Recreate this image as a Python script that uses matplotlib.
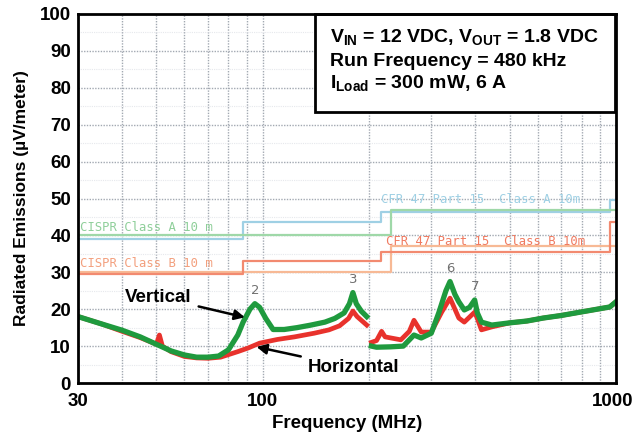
import numpy as np
import matplotlib
matplotlib.use("Agg")
import matplotlib.pyplot as plt
import matplotlib.transforms as mtransforms
from matplotlib.patches import Rectangle

plt.rcParams['font.family'] = ['Liberation Sans', 'DejaVu Sans']
plt.rcParams['mathtext.fontset'] = 'custom'
plt.rcParams['mathtext.rm'] = 'Liberation Sans:bold'
plt.rcParams['mathtext.bf'] = 'Liberation Sans:bold'

# ---------------- data ----------------
vert_freq = [30, 35, 40, 45, 50, 55, 60, 65, 70, 75, 80, 85, 88, 92, 95, 98, 102, 107,
             115, 125, 137, 150, 160, 170, 176, 180, 184, 190, 197, 200,
             203, 210, 230, 250, 268, 281, 300, 315, 330, 339, 350, 359, 372, 385,
             398, 405, 416, 445, 500, 560, 622, 700, 770, 860, 960, 1000]
vert_val = [18, 16, 14.3, 12.5, 10.5, 8.7, 7.6, 7, 7, 7.3, 9, 13, 16.5, 20, 21.5, 20.5, 17.5, 14.5,
            14.5, 15, 15.7, 16.5, 17.5, 19, 21.5, 24.5, 21.5, 19.5, 18, np.nan,
            10, 9.7, 9.8, 10, 13, 12.2, 13.5, 19, 25, 27.5, 24, 22, 19.8, 20.5,
            22.5, 19, 16.5, 15.7, 16.3, 16.8, 17.6, 18.3, 19, 19.8, 20.6, 22]

horiz_freq = [30, 35, 40, 45, 50, 51, 52, 55, 60, 65, 70, 76, 85, 91, 98, 110, 123, 140,
              154, 165, 175, 180, 185, 197, 200,
              203, 210, 217, 222, 246, 260, 268, 281, 300, 321, 339, 359, 372, 398,
              405, 416, 445, 500, 560, 622, 700, 770, 860, 960, 1000]
horiz_val = [18, 16, 14, 12.3, 10.5, 13, 10, 8.5, 7.2, 6.8, 6.7, 7, 8.5, 9.5, 10.8, 11.8, 12.5, 13.5,
             14.4, 15.5, 17.5, 19.5, 18, 15.7, np.nan,
             11, 11.5, 14, 12.5, 11.7, 14, 17, 13.8, 13.8, 19.2, 23, 17.6, 16.5, 19.2,
             17.5, 14.4, 15.2, 16.3, 16.8, 17.6, 18.3, 19, 19.8, 20.6, 22]

# limit lines (step breakpoints)
cispr_a_freq = [30, 230, 1000]
cispr_a_val = [40, 47, 47]
cispr_b_freq = [30, 230, 1000]
cispr_b_val = [30, 37, 37]
fcc_a_freq = [30, 88, 216, 960, 1000]
fcc_a_val = [39.1, 43.5, 46.4, 49.5, 49.5]
fcc_b_freq = [30, 88, 216, 960, 1000]
fcc_b_val = [29.5, 33.1, 35.6, 43.5, 43.5]

peak_labels = ["2", "3", "6", "7"]
peak_freq = [95, 180, 339, 398]
peak_val = [21.5, 24.5, 27.5, 22.5]

x_ticks = [30, 100, 1000]
y_ticks = list(range(0, 101, 10))

# ---------------- figure ----------------
fig = plt.figure(figsize=(6.34, 4.41), dpi=100)
W, H = 634, 441
L, R, T, B = 78, 616, 14, 383
ax = fig.add_axes([L / W, 1 - B / H, (R - L) / W, (B - T) / H])
ax.set_xscale('log')
ax.set_xlim(30, 1000)
ax.set_ylim(0, 100)

# grid
minor_x = list(range(40, 100, 10)) + list(range(200, 1000, 100))
for f in minor_x + [100]:
    ax.axvline(f, color='#a3a9b2', lw=1.0, ls=(0, (1, 1)), zorder=1)
for v in range(10, 100, 10):
    ax.axhline(v, color='#a3a9b2', lw=1.0, ls=(0, (1, 1)), zorder=1)
for v in range(5, 100, 10):
    ax.axhline(v, color='#e6e8ec', lw=0.8, ls=(0, (1, 1)), zorder=1)

# limit lines
ax.step(fcc_a_freq, fcc_a_val, where='post', color='#9fd0e4', lw=1.6, zorder=2)
ax.step(cispr_a_freq, cispr_a_val, where='post', color='#9fd8a8', lw=1.6, zorder=2)
ax.step(cispr_b_freq, cispr_b_val, where='post', color='#f7b995', lw=1.6, zorder=2)
ax.step(fcc_b_freq, fcc_b_val, where='post', color='#f28a70', lw=1.6, zorder=2)

mono = dict(family='DejaVu Sans Mono', fontsize=8.8)
ax.text(30.4, 42.2, "CISPR Class A 10 m", color='#8fcf9a', va='center', ha='left', **mono)
ax.text(30.4, 32.4, "CISPR Class B 10 m", color='#f3a07e', va='center', ha='left', **mono)
ax.text(216, 49.8, "CFR 47 Part 15  Class A 10m", color='#9fd0e4', va='center', ha='left', **mono)
ax.text(224, 38.3, "CFR 47 Part 15  Class B 10m", color='#f07a60', va='center', ha='left', **mono)

# traces
ax.plot(horiz_freq, horiz_val, color='#e8322c', lw=3.4, zorder=3, solid_joinstyle='round')
ax.plot(vert_freq, vert_val, color='#1f9a3e', lw=3.8, zorder=4, solid_joinstyle='round')

for lab, f, v in zip(peak_labels, peak_freq, peak_val):
    ax.text(f, v + 1.8, lab, color='#707070', fontsize=9.5, ha='center', va='bottom', zorder=5,
            family='DejaVu Sans')

# annotations
ax.annotate("Vertical", xy=(89, 17.8), xytext=(40.8, 23.3), fontsize=13.5, fontweight='bold',
            ha='left', va='center',
            arrowprops=dict(arrowstyle='-|>', color='black', lw=1.8, mutation_scale=15,
                            shrinkA=3, shrinkB=0), zorder=6)
ax.annotate("Horizontal", xy=(96, 9.8), xytext=(134, 4.1), fontsize=13.5, fontweight='bold',
            ha='left', va='center',
            arrowprops=dict(arrowstyle='-|>', color='black', lw=1.8, mutation_scale=15,
                            shrinkA=3, shrinkB=0), zorder=6)

# info box
ax.add_patch(Rectangle(((315 - L) / (R - L), (B - 112) / (B - T)), (615 - 315) / (R - L),
                       (112 - T) / (B - T), transform=ax.transAxes, facecolor='white',
                       edgecolor='black', lw=2.0, zorder=7, clip_on=False))
box_lines = [r"V$_{\mathbf{IN}}$ = 12 VDC, V$_{\mathbf{OUT}}$ = 1.8 VDC",
             "Run Frequency = 480 kHz",
             r"I$_{\mathbf{Load}}$ = 300 mW, 6 A"]
for i, s in enumerate(box_lines):
    fig.text(330 / W, 1 - (38 + i * 23) / H, s, fontsize=14, fontweight='bold',
             ha='left', va='center', zorder=8)

# axes styling
ax.set_xticks(x_ticks)
ax.set_xticklabels([str(t) for t in x_ticks])
ax.xaxis.set_minor_locator(matplotlib.ticker.NullLocator())
ax.set_yticks(y_ticks)
ax.tick_params(length=0, labelsize=13.5)
ax.tick_params(axis='y', pad=5)
ax.tick_params(axis='x', pad=7)
for lbl in ax.get_xticklabels() + ax.get_yticklabels():
    lbl.set_fontweight('bold')
last = ax.get_xticklabels()[-1]
last.set_transform(last.get_transform() +
                   mtransforms.ScaledTranslation(-2.6 / 72, 0, fig.dpi_scale_trans))
for sp in ax.spines.values():
    sp.set_linewidth(2.0)
    sp.set_zorder(9)
ax.set_xlabel("Frequency (MHz)", fontsize=13.5, fontweight='bold', labelpad=4)
ax.set_ylabel("Radiated Emissions (µV/meter)", fontsize=12.5, fontweight='bold', labelpad=8)

fig.savefig("out.png", dpi=100)
